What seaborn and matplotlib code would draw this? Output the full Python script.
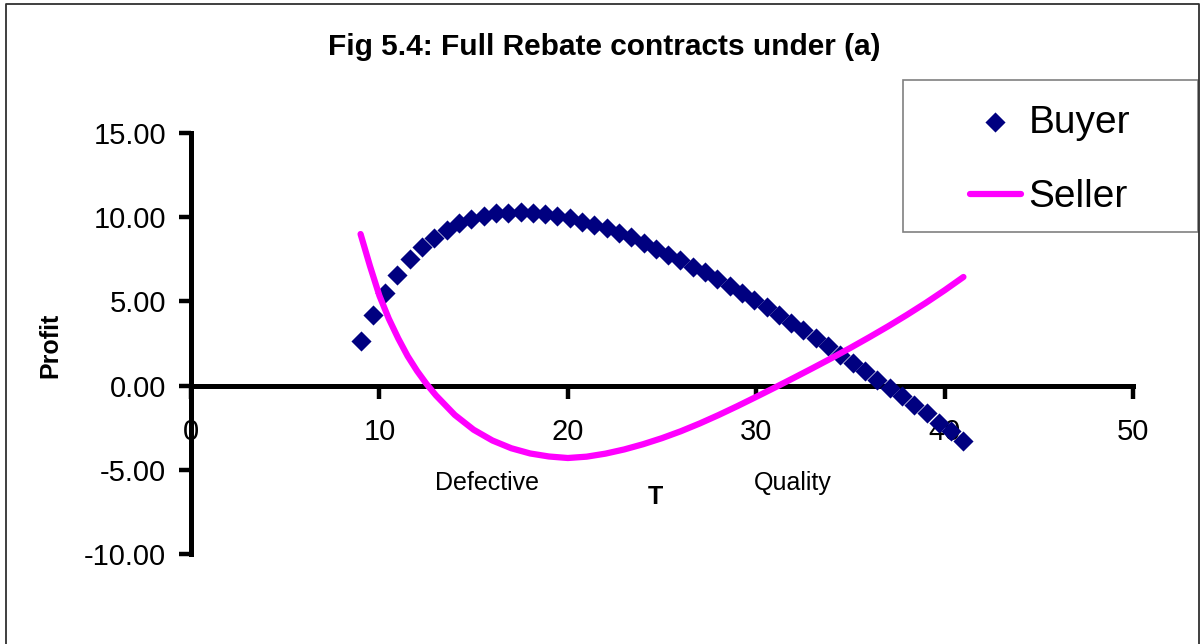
import matplotlib
matplotlib.use("Agg")
import matplotlib.pyplot as plt
import seaborn as sns
from matplotlib.lines import Line2D
from matplotlib.patches import Rectangle
from matplotlib.ticker import FormatStrFormatter

# valeurs
buyer_T = [9.00, 9.65, 10.31, 10.96, 11.61, 12.27, 12.92, 13.57, 14.22, 14.88,
           15.53, 16.18, 16.84, 17.49, 18.14, 18.80, 19.45, 20.10, 20.76, 21.41,
           22.06, 22.71, 23.37, 24.02, 24.67, 25.33, 25.98, 26.63, 27.29, 27.94,
           28.59, 29.24, 29.90, 30.55, 31.20, 31.86, 32.51, 33.16, 33.82, 34.47,
           35.12, 35.78, 36.43, 37.08, 37.73, 38.39, 39.04, 39.69, 40.35, 41.00]
buyer_profit = [2.63, 4.21, 5.49, 6.58, 7.51, 8.22, 8.75, 9.25, 9.64, 9.88,
                10.08, 10.23, 10.27, 10.31, 10.27, 10.20, 10.08, 9.94, 9.74, 9.54,
                9.34, 9.09, 8.80, 8.46, 8.10, 7.77, 7.43, 7.07, 6.72, 6.32,
                5.93, 5.49, 5.10, 4.66, 4.21, 3.72, 3.32, 2.83, 2.33, 1.84,
                1.35, 0.85, 0.36, -0.14, -0.63, -1.13, -1.62, -2.21, -2.71, -3.30]

seller_T = [9, 9.5, 10, 10.5, 11, 11.5, 12, 12.5, 13, 14, 15, 16, 17, 18, 19,
            20, 21, 22, 23, 24, 25, 26, 27, 28, 29, 30, 31, 32, 33, 34, 35,
            36, 37, 38, 39, 40, 41]
seller_profit = [9.0, 7.1, 5.34, 3.97, 2.8, 1.75, 0.87, 0.1, -0.58, -1.74,
                 -2.62, -3.26, -3.72, -4.03, -4.21, -4.30, -4.22, -4.04, -3.79,
                 -3.48, -3.12, -2.71, -2.25, -1.75, -1.22, -0.67, -0.11, 0.46,
                 1.04, 1.63, 2.24, 2.87, 3.52, 4.20, 4.91, 5.66, 6.45]

x_ticks = [0, 10, 20, 30, 40, 50]
y_ticks = [-10, -5, 0, 5, 10, 15]

sns.set_theme(style="white")
plt.rcParams['font.family'] = ['Liberation Sans', 'DejaVu Sans']
plt.rcParams['axes.unicode_minus'] = False
plt.rcParams['text.color'] = 'black'
plt.rcParams['axes.labelcolor'] = 'black'

fig = plt.figure(figsize=(12.01, 6.44), dpi=100)
ax = fig.add_axes([191 / 1201, 1 - 554 / 644, 942 / 1201, 421 / 644])

sns.scatterplot(x=buyer_T, y=buyer_profit, ax=ax, marker='D', s=105,
                color='#000080', linewidth=0, label='Buyer', zorder=3)
sns.lineplot(x=seller_T, y=seller_profit, ax=ax, color='#FF00FF', linewidth=4.5,
             label='Seller', zorder=4, solid_capstyle='round')

ax.set_xlim(0, 50)
ax.set_ylim(-10, 15)
ax.set_xticks(x_ticks)
ax.set_yticks(y_ticks)
ax.yaxis.set_major_formatter(FormatStrFormatter('%.2f'))

# axes a la Excel
for side in ['top', 'right']:
    ax.spines[side].set_visible(False)
ax.spines['bottom'].set_position(('data', 0))
for side in ['left', 'bottom']:
    ax.spines[side].set_linewidth(3.6)
    ax.spines[side].set_color('black')
    ax.spines[side].set_zorder(2)
ax.tick_params(axis='both', which='major', direction='out', length=9, width=3.2,
               color='black', labelsize=21, labelcolor='black')
ax.tick_params(axis='x', pad=14, bottom=True)
ax.tick_params(axis='y', pad=9, left=True)

ax.set_xlabel('T', fontsize=18, fontweight='bold')
ax.set_ylabel('Profit', fontsize=18, fontweight='bold')
ax.xaxis.set_label_coords(0.4926, 0.164)
ax.yaxis.set_label_coords(-0.137, 0.496)

ax.text(15.7, -5.8, 'Defective', fontsize=18, ha='center', va='center')
ax.text(31.95, -5.8, 'Quality', fontsize=18, ha='center', va='center')

fig.text(604 / 1201, 1 - 47 / 644, 'Fig 5.4: Full Rebate contracts under (a)',
         fontsize=21.5, fontweight='bold', ha='center', va='center')

# legende avec cadre dessine a part
leg = ax.legend(loc='center left', bbox_to_anchor=(970 / 1201, 1 - 160 / 644),
                bbox_transform=fig.transFigure, frameon=False, fontsize=28,
                borderpad=0, borderaxespad=0, handlelength=1.3,
                handletextpad=0.2, labelspacing=1.0)
fig.patches.append(Rectangle((903 / 1201, 1 - 232 / 644), 295 / 1201, 152 / 644,
                             transform=fig.transFigure, fill=False,
                             edgecolor='#808080', linewidth=1.2))

# cadre exterieur (gauche, haut, droite)
x_l, x_r, y_t = 6 / 1201, 1199 / 1201, 1 - 4 / 644
fig.lines.append(Line2D([x_l, x_l, x_r, x_r], [0, y_t, y_t, 0],
                        transform=fig.transFigure, color='#303030', linewidth=1.3))

fig.savefig('out.png', dpi=100)
